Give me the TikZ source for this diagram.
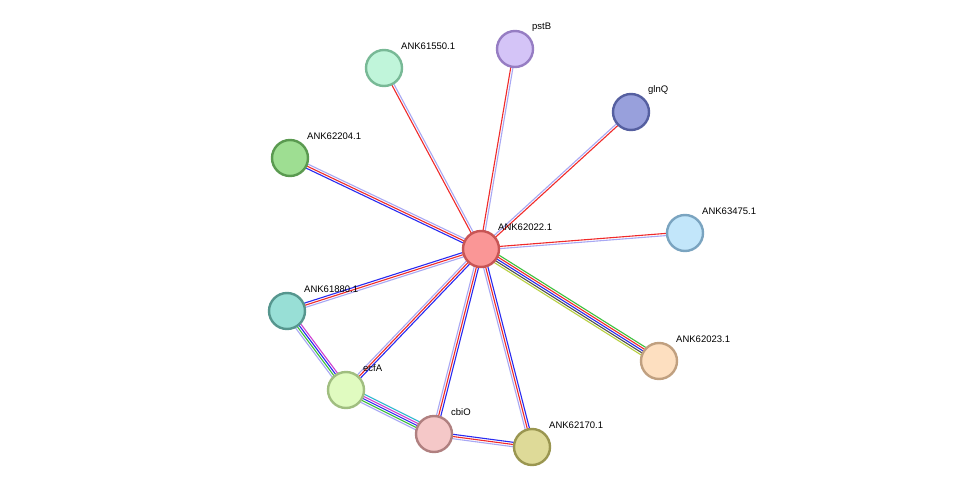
\documentclass[tikz,border=0pt]{standalone}
\usepackage{fontspec}
\setmainfont{Liberation Sans}
\usetikzlibrary{calc}
\definecolor{lb}{HTML}{A8A8F4}
\definecolor{eb}{HTML}{2A2AF0}
\definecolor{er}{HTML}{F02A2A}
\definecolor{eg}{HTML}{3CBF3C}
\definecolor{em}{HTML}{D040D0}
\definecolor{ec}{HTML}{30B8D0}
\definecolor{ey}{HTML}{B8D040}
\definecolor{ek}{HTML}{505050}
% edge: from, to, number of lines, colours
\newcommand{\edge}[4]{%
  \foreach \c [count=\i] in {#4} {
    \pgfmathsetmacro{\off}{(\i-(#3+1)/2)*2.2}
    \draw[\c, line width=1.1pt] ($(#1)!\off pt!90:(#2)$) -- ($(#2)!\off pt!-90:(#1)$);
  }}
\tikzset{
  prot/.style={circle, minimum size=36pt, inner sep=0pt, line width=2.4pt},
  lbl/.style={anchor=west, font=\fontsize{9.5}{11}\selectfont, inner sep=0pt}
}
\begin{document}
\begin{tikzpicture}[x=1pt,y=-1pt]
\useasboundingbox (0,0) rectangle (976,492);
\fill[white] (0,0) rectangle (976,492);

\coordinate (c) at (481,249);
\coordinate (a1550) at (384,68);
\coordinate (pstB) at (515,49);
\coordinate (glnQ) at (631,112);
\coordinate (a2204) at (290,158);
\coordinate (a3475) at (685,233);
\coordinate (a1880) at (287,311);
\coordinate (ecfA) at (346,390);
\coordinate (cbiO) at (434,434);
\coordinate (a2170) at (532,447);
\coordinate (a2023) at (659,361);

\edge{c}{a1550}{2}{lb,er}
\edge{c}{pstB}{2}{lb,er}
\edge{c}{glnQ}{2}{er,lb}
\edge{c}{a2204}{3}{lb,er,eb}
\edge{c}{a3475}{2}{lb,er}
\edge{c}{a2023}{5}{ey,ek,eb,er,eg}
\edge{c}{a1880}{3}{eb,er,lb}
\edge{c}{ecfA}{3}{lb,er,eb}
\edge{c}{cbiO}{3}{lb,er,eb}
\edge{c}{a2170}{3}{lb,er,eb}
\edge{a1880}{ecfA}{4}{lb,eg,eb,em}
\edge{ecfA}{cbiO}{5}{lb,eg,eb,em,ec}
\edge{cbiO}{a2170}{3}{lb,er,eb}

\node[prot, fill={rgb,255:red,250;green,150;blue,150}, draw={rgb,255:red,200;green,85;blue,85}] (n22) at (c) {};
\node[prot, fill={rgb,255:red,192;green,245;blue,218}, draw={rgb,255:red,120;green,185;blue,150}] (n50) at (a1550) {};
\node[prot, fill={rgb,255:red,212;green,196;blue,247}, draw={rgb,255:red,150;green,125;blue,195}] (nB) at (pstB) {};
\node[prot, fill={rgb,255:red,152;green,160;blue,220}, draw={rgb,255:red,85;green,95;blue,160}] (nQ) at (glnQ) {};
\node[prot, fill={rgb,255:red,158;green,222;blue,146}, draw={rgb,255:red,90;green,154;blue,80}] (n04) at (a2204) {};
\node[prot, fill={rgb,255:red,194;green,230;blue,250}, draw={rgb,255:red,122;green,164;blue,192}] (n75) at (a3475) {};
\node[prot, fill={rgb,255:red,152;green,223;blue,214}, draw={rgb,255:red,86;green,150;blue,142}] (n80) at (a1880) {};
\node[prot, fill={rgb,255:red,224;green,251;blue,192}, draw={rgb,255:red,160;green,190;blue,128}] (nA) at (ecfA) {};
\node[prot, fill={rgb,255:red,245;green,200;blue,200}, draw={rgb,255:red,176;green,128;blue,128}] (nO) at (cbiO) {};
\node[prot, fill={rgb,255:red,222;green,218;blue,152}, draw={rgb,255:red,154;green,150;blue,80}] (n70) at (a2170) {};
\node[prot, fill={rgb,255:red,253;green,223;blue,192}, draw={rgb,255:red,192;green,160;blue,128}] (n23) at (a2023) {};

\node[lbl] at ($(c)+(17,-22)$) {ANK62022.1};
\node[lbl] at ($(a1550)+(17,-22)$) {ANK61550.1};
\node[lbl] at ($(pstB)+(17,-22)$) {pstB};
\node[lbl] at ($(glnQ)+(17,-22)$) {glnQ};
\node[lbl] at ($(a2204)+(17,-22)$) {ANK62204.1};
\node[lbl] at ($(a3475)+(17,-22)$) {ANK63475.1};
\node[lbl] at ($(a1880)+(17,-22)$) {ANK61880.1};
\node[lbl] at ($(ecfA)+(17,-22)$) {ecfA};
\node[lbl] at ($(cbiO)+(17,-22)$) {cbiO};
\node[lbl] at ($(a2170)+(17,-22)$) {ANK62170.1};
\node[lbl] at ($(a2023)+(17,-22)$) {ANK62023.1};
\end{tikzpicture}
\end{document}
